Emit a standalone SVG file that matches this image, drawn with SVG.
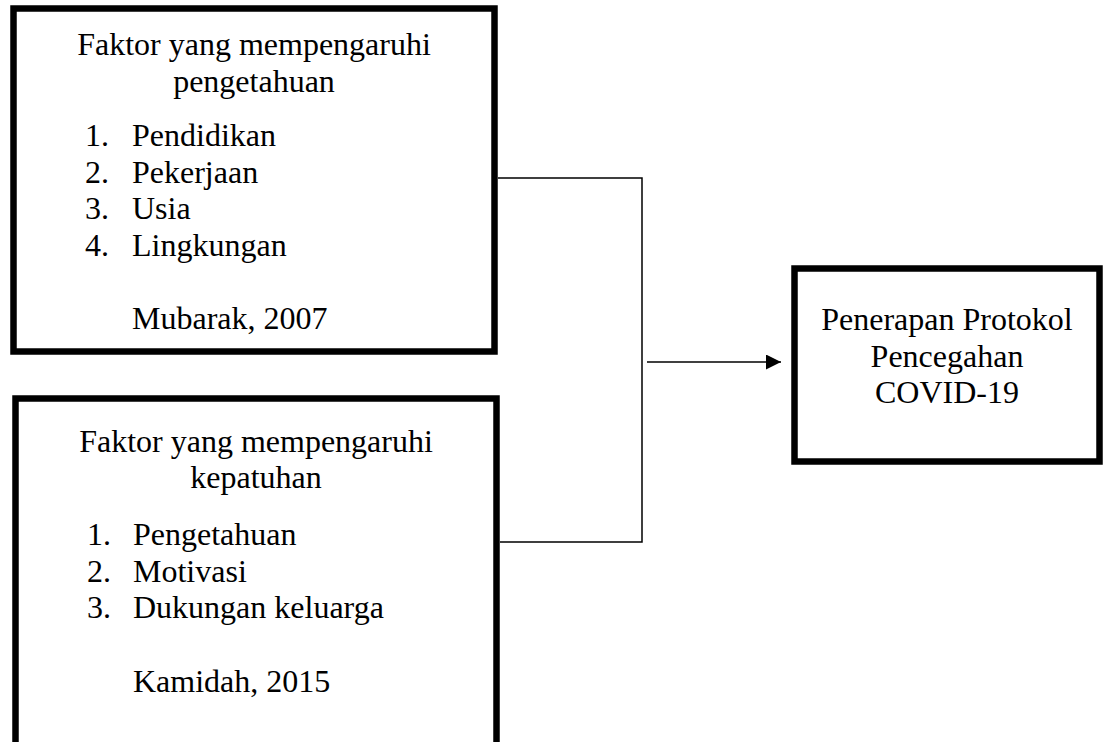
<svg xmlns="http://www.w3.org/2000/svg" width="1105" height="742" viewBox="0 0 1105 742">
  <style>
    .box { fill: #ffffff; stroke: #000000; stroke-width: 6.5; }
    .t { font-family: "Liberation Serif", "Times New Roman", serif; font-size: 32px; fill: #000000; }
    .c { text-anchor: middle; }
    .line { fill: none; stroke: #000000; stroke-width: 1.5; }
  </style>
  <defs>
    <marker id="arrow" viewBox="0 0 10 10" refX="10" refY="5" markerWidth="15" markerHeight="15" markerUnits="userSpaceOnUse" orient="auto">
      <path d="M0,0 L10,5 L0,10 Z" fill="#000000"/>
    </marker>
  </defs>
  <rect x="0" y="0" width="1105" height="742" fill="#ffffff"/>

  <g id="node-pengetahuan">
    <rect class="box" x="13.5" y="8.5" width="481" height="343"/>
    <text class="t c" x="254" y="55">Faktor yang mempengaruhi</text>
    <text class="t c" x="254" y="92">pengetahuan</text>
    <text class="t" x="85" y="146">1.</text>
    <text class="t" x="132" y="146">Pendidikan</text>
    <text class="t" x="85" y="183">2.</text>
    <text class="t" x="132" y="183">Pekerjaan</text>
    <text class="t" x="85" y="219">3.</text>
    <text class="t" x="132" y="219">Usia</text>
    <text class="t" x="85" y="256">4.</text>
    <text class="t" x="132" y="256">Lingkungan</text>
    <text class="t" x="132" y="329">Mubarak, 2007</text>
  </g>

  <g id="node-kepatuhan">
    <rect class="box" x="15.5" y="398.5" width="481" height="370"/>
    <text class="t c" x="256" y="452">Faktor yang mempengaruhi</text>
    <text class="t c" x="256" y="488">kepatuhan</text>
    <text class="t" x="87" y="545">1.</text>
    <text class="t" x="133" y="545">Pengetahuan</text>
    <text class="t" x="87" y="582">2.</text>
    <text class="t" x="133" y="582">Motivasi</text>
    <text class="t" x="87" y="618">3.</text>
    <text class="t" x="133" y="618">Dukungan keluarga</text>
    <text class="t" x="133" y="692">Kamidah, 2015</text>
  </g>

  <g id="node-penerapan">
    <rect class="box" x="794.5" y="268.5" width="305" height="193"/>
    <text class="t c" x="947" y="330">Penerapan Protokol</text>
    <text class="t c" x="947" y="367">Pencegahan</text>
    <text class="t c" x="947" y="403">COVID-19</text>
  </g>

  <g id="connectors">
    <polyline class="line" points="498,178 642,178 642,542 500,542"/>
    <line class="line" x1="647" y1="362" x2="781" y2="362" marker-end="url(#arrow)"/>
  </g>
</svg>
